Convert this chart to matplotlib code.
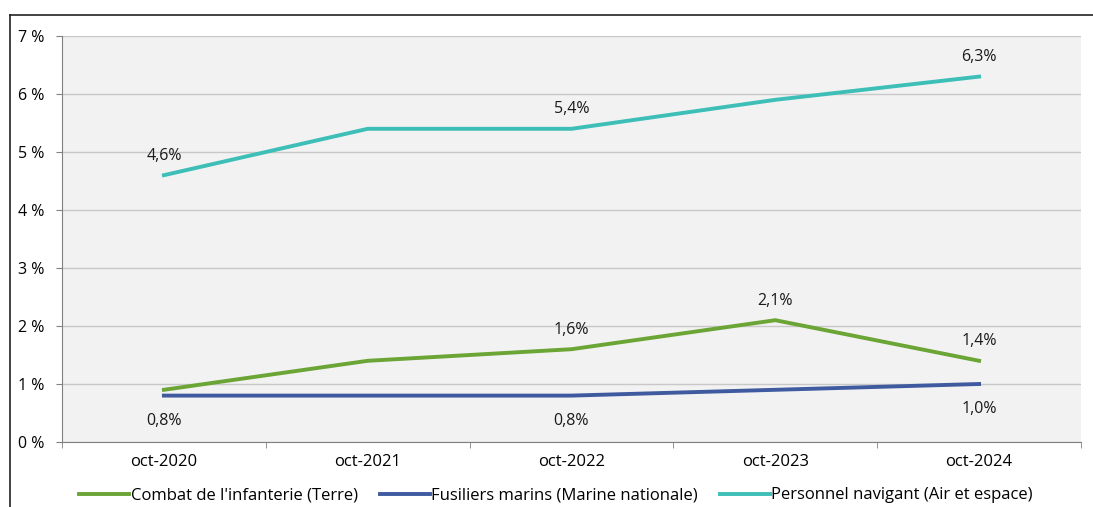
import numpy as np
import matplotlib.pyplot as plt
from matplotlib.lines import Line2D

plt.rcParams['font.family'] = ['Open Sans', 'DejaVu Sans']

categories = ['oct-2020', 'oct-2021', 'oct-2022', 'oct-2023', 'oct-2024']
infanterie = [0.9, 1.4, 1.6, 2.1, 1.4]
fusiliers = [0.8, 0.8, 0.8, 0.9, 1.0]
navigant = [4.6, 5.4, 5.4, 5.9, 6.3]
yticks = [0, 1, 2, 3, 4, 5, 6, 7]
ytick_labels = ['0 %', '1 %', '2 %', '3 %', '4 %', '5 %', '6 %', '7 %']

# which points get a label, and above or below
inf_labels = {2: 'up', 3: 'up', 4: 'up'}
fus_labels = {0: 'down', 2: 'down', 4: 'down'}
nav_labels = {0: 'up', 2: 'up', 4: 'up'}

c_inf = '#6aa535'
c_fus = '#3f5a9e'
c_nav = '#3dbfb8'

fig = plt.figure(figsize=(10.93, 5.07), dpi=100)
ax = fig.add_axes([62/1093, 1 - 442/507, (1081-62)/1093, (442-36)/507])
ax.set_facecolor('#f2f2f2')

x = np.arange(len(categories))
ax.plot(x, infanterie, color=c_inf, lw=2.8, label="Combat de l'infanterie (Terre)", zorder=3)
ax.plot(x, fusiliers, color=c_fus, lw=2.8, label='Fusiliers marins (Marine nationale)', zorder=3)
ax.plot(x, navigant, color=c_nav, lw=2.8, label='Personnel navigant (Air et espace)', zorder=3)

def fmt(v):
    return ('%.1f%%' % v).replace('.', ',')

for series, labs in [(infanterie, inf_labels), (fusiliers, fus_labels), (navigant, nav_labels)]:
    for i, pos in labs.items():
        off = 14 if pos == 'up' else -18
        ax.annotate(fmt(series[i]), (x[i], series[i]), xytext=(0, off), textcoords='offset points',
                    ha='center', va='center', fontsize=11.5, color='#1a1a1a')

ax.set_xlim(-0.5, 4.5)
ax.set_ylim(0, 7)
ax.set_yticks(yticks)
ax.set_yticklabels(ytick_labels, fontsize=11.5)
ax.set_xticks(x)
ax.set_xticklabels(categories, fontsize=12)
ax.tick_params(axis='x', length=0, pad=9)
ax.set_xticks(np.arange(-0.5, 5, 1), minor=True)
ax.tick_params(axis='x', which='minor', length=4, color='#808080', direction='out')
ax.tick_params(axis='y', length=4, color='#808080', pad=9)

ax.grid(axis='y', color='#c8c8c8', lw=1)
ax.set_axisbelow(True)
for s in ['top', 'right']:
    ax.spines[s].set_visible(False)
ax.spines['left'].set_color('#808080')
ax.spines['bottom'].set_color('#808080')

ax.legend(loc='upper center', bbox_to_anchor=(0.485, -0.075), ncol=3, frameon=False,
          fontsize=12, handlelength=3.0, handletextpad=0.1, columnspacing=1.3)

# cropped frame border
fig.add_artist(Line2D([10/1093, 1], [1 - 15/507, 1 - 15/507], color='#222222', lw=1.2))
fig.add_artist(Line2D([10/1093, 10/1093], [0, 1 - 15/507], color='#222222', lw=1.2))

fig.savefig('out.png', dpi=100)
